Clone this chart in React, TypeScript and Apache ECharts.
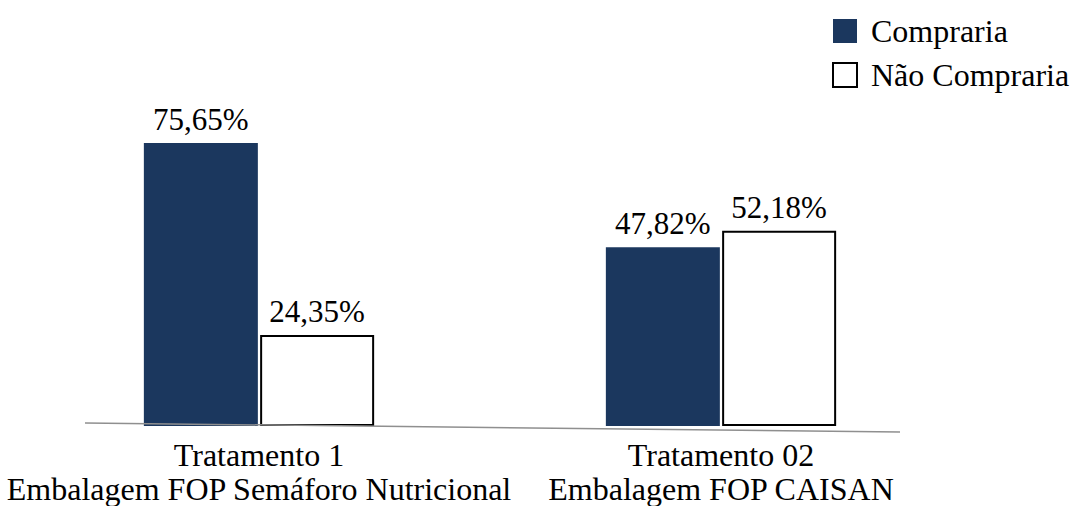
import React, { useEffect, useRef } from "react";
import * as echarts from "echarts";

const categories = [
  "Tratamento 1\nEmbalagem FOP Semáforo Nutricional",
  "Tratamento 02\nEmbalagem FOP CAISAN",
];
const seriesNames = ["Compraria", "Não Compraria"];
const compraria = [75.65, 47.82];
const naoCompraria = [24.35, 52.18];

const FONT = "'Liberation Serif', 'Times New Roman', serif";

const fmt = (v: number) => v.toFixed(2).replace(".", ",") + "%";

export default function App() {
  const ref = useRef<HTMLDivElement>(null);
  useEffect(() => {
    document.body.style.margin = "0";
    if (!ref.current) return;
    const chart = echarts.init(ref.current, undefined, { renderer: "svg" });
    const label = {
      show: true,
      position: "top" as const,
      distance: 8,
      fontFamily: FONT,
      fontSize: 31,
      color: "#000",
      formatter: (p: any) => fmt(p.value),
    };
    chart.setOption({
      animation: false,
      backgroundColor: "#fff",
      textStyle: { fontFamily: FONT },
      legend: {
        orient: "vertical",
        left: 832,
        top: 15,
        itemWidth: 24,
        itemHeight: 24,
        itemGap: 12,
        icon: "rect",
        padding: 0,
        data: seriesNames,
        textStyle: {
          fontFamily: FONT,
          fontSize: 32,
          lineHeight: 32,
          color: "#000",
          padding: [0, 0, 0, 9],
        },
      },
      grid: { left: 28, right: 120, top: 52, bottom: 77 },
      xAxis: {
        type: "category",
        data: categories,
        axisLine: { show: false },
        axisTick: { show: false },
        axisLabel: {
          interval: 0,
          margin: 12,
          fontFamily: FONT,
          fontSize: 32,
          lineHeight: 34,
          color: "#000",
        },
      },
      yAxis: {
        type: "value",
        min: 0,
        max: 100,
        show: false,
        splitLine: { show: false },
      },
      series: [
        {
          name: seriesNames[0],
          type: "bar",
          data: compraria,
          barWidth: 114,
          barGap: "2%",
          itemStyle: { color: "#1B375E" },
          label,
        },
        {
          name: seriesNames[1],
          type: "bar",
          data: naoCompraria,
          barWidth: 114,
          itemStyle: { color: "#fff", borderColor: "#000", borderWidth: 2 },
          label,
        },
      ],
      graphic: [
        {
          type: "line",
          z: 100,
          shape: { x1: 85, y1: 423, x2: 900, y2: 432 },
          style: { stroke: "#8f8f8f", lineWidth: 1.5 },
        },
      ],
    });
    return () => chart.dispose();
  }, []);
  return <div ref={ref} style={{ width: 1072, height: 506 }} />;
}
